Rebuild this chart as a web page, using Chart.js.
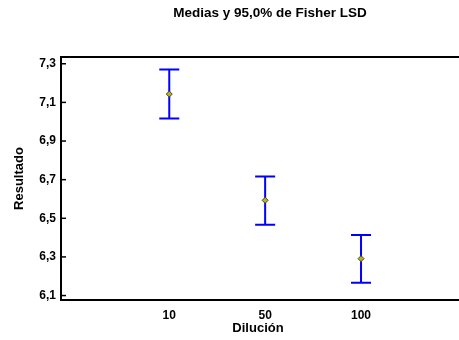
<!DOCTYPE html>
<html>
<head>
<meta charset="utf-8">
<script src="https://cdn.jsdelivr.net/npm/chart.js@4.4.1/dist/chart.umd.min.js"></script>
<style>
  html, body { margin: 0; padding: 0; background: #fff; }
  #wrap { width: 459px; height: 340px; }
</style>
</head>
<body>
<div id="wrap"><canvas id="grafico"></canvas></div>
<script>
// datos
var diluciones = ["10", "50", "100"];
var medias = [7.143, 6.593, 6.291];
var limInf = [7.016, 6.467, 6.166];
var limSup = [7.270, 6.716, 6.414];
var yTicks = [6.1, 6.3, 6.5, 6.7, 6.9, 7.1, 7.3];
var titulo = "Medias y 95,0% de Fisher LSD";

var fuente = "'Liberation Sans', Arial, sans-serif";

var puntos = diluciones.map(function (d, i) {
  return { x: i + 1, y: medias[i] };
});

// barras de error LSD
var barrasError = {
  id: "barrasError",
  beforeDatasetsDraw: function (chart) {
    var ctx = chart.ctx;
    var xs = chart.scales.x, ys = chart.scales.y;
    ctx.save();
    ctx.strokeStyle = "#0000ff";
    ctx.lineWidth = 2;
    for (var i = 0; i < diluciones.length; i++) {
      var x = xs.getPixelForValue(i + 1);
      var y1 = ys.getPixelForValue(limInf[i]);
      var y2 = ys.getPixelForValue(limSup[i]);
      ctx.beginPath();
      ctx.moveTo(x, y1); ctx.lineTo(x, y2);
      ctx.moveTo(x - 10, y1); ctx.lineTo(x + 10, y1);
      ctx.moveTo(x - 10, y2); ctx.lineTo(x + 10, y2);
      ctx.stroke();
    }
    ctx.restore();
  }
};

// marco (arriba, izquierda, abajo) y marcas hacia dentro
var marco = {
  id: "marco",
  afterDraw: function (chart) {
    var ctx = chart.ctx, a = chart.chartArea;
    var ys = chart.scales.y;
    ctx.save();
    ctx.strokeStyle = "#000";
    ctx.lineWidth = 2;
    ctx.beginPath();
    ctx.moveTo(chart.width, a.top); ctx.lineTo(a.left, a.top);
    ctx.lineTo(a.left, a.bottom); ctx.lineTo(chart.width, a.bottom);
    ctx.stroke();
    ctx.lineWidth = 1.5;
    yTicks.forEach(function (v) {
      var y = ys.getPixelForValue(v);
      ctx.beginPath();
      ctx.moveTo(a.left, y); ctx.lineTo(a.left + 5, y);
      ctx.stroke();
    });
    // titulo
    ctx.fillStyle = "#000";
    ctx.font = "bold 13.5px " + fuente;
    ctx.textAlign = "center";
    ctx.textBaseline = "middle";
    ctx.fillText(titulo, 270, 13);
    ctx.restore();
  }
};

new Chart(document.getElementById("grafico").getContext("2d"), {
  type: "scatter",
  data: {
    datasets: [
      {
        data: puntos,
        pointStyle: "rectRot",
        pointRadius: 3,
        pointHoverRadius: 3,
        backgroundColor: "#b4b41e",
        borderColor: "#4a4a10",
        borderWidth: 1
      }
    ]
  },
  options: {
    responsive: true,
    maintainAspectRatio: false,
    animation: false,
    layout: { padding: { top: 57, left: 0, right: 0, bottom: 0 } },
    plugins: {
      legend: { display: false },
      tooltip: { enabled: false },
      title: { display: false }
    },
    scales: {
      x: {
        type: "linear",
        min: -0.129,
        max: 3.98,
        grid: { display: false, drawTicks: false, tickLength: 0 },
        border: { display: false },
        afterBuildTicks: function (s) {
          s.ticks = diluciones.map(function (d, i) { return { value: i + 1 }; });
        },
        afterFit: function (s) { s.height = 40; },
        ticks: {
          padding: 8,
          color: "#000",
          font: { family: fuente, size: 12, weight: "bold" },
          callback: function (v) { return diluciones[v - 1]; }
        },
        title: {
          display: true,
          text: "Dilución",
          color: "#000",
          padding: { top: 0, bottom: 4 },
          font: { family: fuente, size: 13, weight: "bold" }
        }
      },
      y: {
        min: 6.077,
        max: 7.335,
        grid: { display: false, drawTicks: false, tickLength: 0 },
        border: { display: false },
        afterBuildTicks: function (s) {
          s.ticks = yTicks.map(function (v) { return { value: v }; });
        },
        afterFit: function (s) { s.width = 61; },
        ticks: {
          padding: 5,
          color: "#000",
          font: { family: fuente, size: 12, weight: "bold" },
          callback: function (v) { return v.toFixed(1).replace(".", ","); }
        },
        title: {
          display: true,
          text: "Resultado",
          color: "#000",
          padding: { top: 12, bottom: 0 },
          font: { family: fuente, size: 13, weight: "bold" }
        }
      }
    }
  },
  plugins: [barrasError, marco]
});
</script>
</body>
</html>
